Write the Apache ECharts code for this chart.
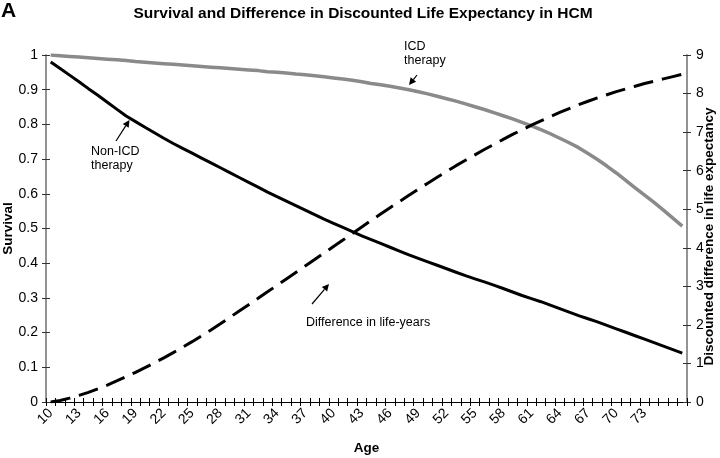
<!DOCTYPE html>
<html><head><meta charset="utf-8">
<script src="https://cdn.jsdelivr.net/npm/echarts/dist/echarts.min.js"></script>
<style>html,body{margin:0;padding:0;background:#fff}#c{width:720px;height:458px}</style>
</head><body><div id="c"></div>
<script>
// ---- data ----
const ages = ['10','11','12','13','14','15','16','17','18','19','20','21','22','23','24','25','26','27','28','29',
  '30','31','32','33','34','35','36','37','38','39','40','41','42','43','44','45','46','47','48','49',
  '50','51','52','53','54','55','56','57','58','59','60','61','62','63','64','65','66','67','68','69',
  '70','71','72','73','74','75','76','77'];
const xTickLabels = ['10','13','16','19','22','25','28','31','34','37','40','43','46','49','52','55','58','61','64','67','70','73'];
const icdSurvival = [1.000,0.998,0.996,0.994,0.992,0.990,0.988,0.986,0.984,0.981,0.979,0.977,0.975,0.973,0.971,0.969,0.967,0.965,0.963,0.961,
  0.959,0.957,0.955,0.952,0.950,0.948,0.945,0.943,0.940,0.937,0.934,0.931,0.927,0.923,0.918,0.914,0.910,0.905,0.900,0.894,
  0.888,0.881,0.874,0.867,0.859,0.851,0.843,0.834,0.825,0.816,0.806,0.796,0.785,0.773,0.760,0.747,0.733,0.716,0.699,0.680,
  0.660,0.639,0.617,0.596,0.575,0.553,0.530,0.507];
const nonIcdSurvival = [0.980,0.961,0.942,0.923,0.903,0.884,0.864,0.844,0.824,0.808,0.792,0.776,0.760,0.745,0.731,0.717,0.703,0.689,0.675,0.661,
  0.647,0.633,0.619,0.605,0.592,0.579,0.566,0.553,0.540,0.527,0.515,0.503,0.491,0.479,0.468,0.457,0.446,0.435,0.424,0.414,
  0.404,0.394,0.384,0.374,0.364,0.355,0.346,0.337,0.327,0.317,0.307,0.298,0.289,0.279,0.269,0.259,0.249,0.240,0.231,0.221,
  0.211,0.201,0.191,0.181,0.171,0.161,0.151,0.141];
const lifeYearsDiff = [0.00,0.04,0.10,0.17,0.25,0.34,0.44,0.545,0.655,0.77,0.89,1.015,1.145,1.28,1.42,1.565,1.715,1.87,2.03,2.195,
  2.36,2.525,2.69,2.857,3.025,3.193,3.361,3.529,3.697,3.865,4.033,4.20,4.37,4.54,4.71,4.875,5.04,5.20,5.36,5.52,
  5.675,5.83,5.98,6.13,6.27,6.41,6.55,6.68,6.81,6.94,7.06,7.18,7.29,7.40,7.51,7.61,7.71,7.80,7.89,7.97,
  8.05,8.12,8.19,8.26,8.32,8.38,8.44,8.50];

// ---- chart ----
const FONT = '"Liberation Sans", Arial, sans-serif';
const chart = echarts.init(document.getElementById('c'), null, {renderer: 'canvas'});

function arrow(x1, y1, x2, y2) {
  const a = Math.atan2(y2 - y1, x2 - x1), L = 7, W = 3.5;
  const bx = x2 - L * Math.cos(a), by = y2 - L * Math.sin(a);
  const px = -Math.sin(a) * W, py = Math.cos(a) * W;
  return [
    {type: 'line', shape: {x1: x1, y1: y1, x2: bx, y2: by}, style: {stroke: '#000', lineWidth: 1.2}},
    {type: 'polygon', shape: {points: [[x2, y2], [bx + px, by + py], [bx - px, by - py]]}, style: {fill: '#000'}}
  ];
}
function note(x, y, t) {
  return {type: 'text', left: x, top: y, style: {text: t, font: '12.5px ' + FONT, fill: '#000', lineHeight: 14}};
}

const xBase = {
  type: 'category', data: ages, position: 'bottom', boundaryGap: true,
  axisLine: {show: true, lineStyle: {color: '#000', width: 1}},
  splitLine: {show: false}
};
const yLine = {show: true, lineStyle: {color: '#8c8c8c', width: 1.5}};
const tickStyle = {color: '#333', width: 1};
const nameStyle = {fontFamily: FONT, fontSize: 13.5, fontWeight: 'bold', color: '#000'};

chart.setOption({
  animation: false,
  backgroundColor: '#fff',
  title: {
    text: 'Survival and Difference in Discounted Life Expectancy in HCM',
    left: 358, top: 1, textAlign: 'center',
    textStyle: {fontFamily: FONT, fontSize: 15.5, fontWeight: 'bold', color: '#000'}
  },
  grid: {left: 46, right: 33, top: 55, bottom: 56, containLabel: false, outerBoundsMode: 'none'},
  xAxis: [
    Object.assign({}, xBase, {
      name: 'Age', nameLocation: 'middle', nameGap: 39, nameMoveOverlap: false, nameTextStyle: nameStyle,
      axisTick: {show: true, interval: 0, inside: false, length: 4, lineStyle: {color: '#000'}},
      axisLabel: {
        interval: 0, rotate: 45, margin: 9, fontFamily: FONT, fontSize: 14, color: '#000',
        formatter: function (v) { return xTickLabels.indexOf(v) >= 0 ? v : ''; }
      }
    }),
    Object.assign({}, xBase, {
      axisTick: {show: true, interval: 0, inside: true, length: 4, lineStyle: {color: '#000'}},
      axisLabel: {show: false}
    })
  ],
  yAxis: [
    {
      type: 'value', position: 'left', min: 0, max: 1, interval: 0.1,
      name: 'Survival', nameLocation: 'middle', nameGap: 31, nameRotate: 90, nameMoveOverlap: false,
      nameTextStyle: nameStyle,
      axisLine: yLine, axisTick: {show: true, length: 4, lineStyle: tickStyle},
      axisLabel: {margin: 8, fontFamily: FONT, fontSize: 14, color: '#000',
        formatter: function (v) { return String(Math.round(v * 10) / 10); }},
      splitLine: {show: false}
    },
    {
      type: 'value', position: 'right', min: 0, max: 9, interval: 1,
      name: 'Discounted difference in life expectancy', nameLocation: 'middle', nameGap: 15, nameRotate: 90,
      nameMoveOverlap: false,
      nameTextStyle: Object.assign({}, nameStyle, {padding: [0, 16, 0, 0]}),
      axisLine: yLine, axisTick: {show: true, length: 4, lineStyle: tickStyle},
      axisLabel: {margin: 9, fontFamily: FONT, fontSize: 14, color: '#000'},
      splitLine: {show: false}
    },
    {
      type: 'value', position: 'left', min: 0, max: 1, interval: 0.1,
      axisLine: yLine, axisTick: {show: true, inside: true, length: 4, lineStyle: tickStyle},
      axisLabel: {show: false}, splitLine: {show: false}
    },
    {
      type: 'value', position: 'right', min: 0, max: 9, interval: 1,
      axisLine: yLine, axisTick: {show: true, inside: true, length: 4, lineStyle: tickStyle},
      axisLabel: {show: false}, splitLine: {show: false}
    }
  ],
  series: [
    {
      name: 'ICD therapy', type: 'line', data: icdSurvival, xAxisIndex: 0, yAxisIndex: 0,
      symbol: 'none', smooth: false, lineStyle: {color: '#8a8a8a', width: 3.5}, z: 3
    },
    {
      name: 'Non-ICD therapy', type: 'line', data: nonIcdSurvival, xAxisIndex: 0, yAxisIndex: 0,
      symbol: 'none', smooth: false, lineStyle: {color: '#000', width: 3}, z: 4
    },
    {
      name: 'Difference in life-years', type: 'line', data: lifeYearsDiff, xAxisIndex: 0, yAxisIndex: 1,
      symbol: 'none', smooth: false, lineStyle: {color: '#000', width: 3, type: [20, 9]}, z: 5
    }
  ],
  graphic: [
    {type: 'text', left: 1, top: 1, style: {text: 'A', font: 'bold 21px ' + FONT, fill: '#000'}},
    note(404, 40, 'ICD\ntherapy'),
    note(91, 145, 'Non-ICD\ntherapy'),
    note(306, 316, 'Difference in life-years')
  ].concat(arrow(417, 75, 409, 85), arrow(116, 141, 129.5, 120), arrow(312, 304, 329, 284))
});
</script>
</body></html>
